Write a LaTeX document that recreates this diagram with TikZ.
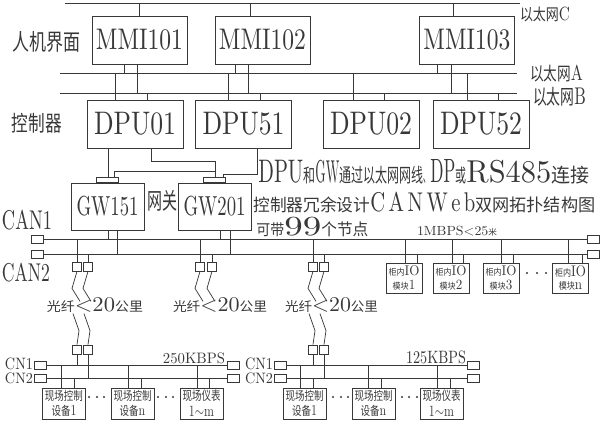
\documentclass[tikz,border=0pt]{standalone}
\usepackage{fontspec}
\usepackage{graphicx}
\newfontfamily\cjk{Noto Sans CJK SC}
\newlength\pxu
\setlength\pxu{0.75pt}
% text boxes are stretched to the size they have in the drawing (in px)
\newcommand{\fit}[3]{\resizebox*{#1\pxu}{#2\pxu}{#3}}
\newcommand{\zhfit}[3]{\resizebox*{#1\pxu}{#2\pxu}{\cjk #3}}
\newcommand{\zh}[2][0.62]{\scalebox{#1}{\cjk #2}}
\tikzset{
  box/.style={draw, inner sep=0pt},
  mmibox/.style={box, minimum width=95*\pxu, minimum height=48*\pxu},
  dpubox/.style={box, minimum width=96*\pxu, minimum height=48*\pxu},
  gwbox/.style={box, minimum width=73*\pxu, minimum height=47*\pxu},
  plug/.style={box, minimum width=22*\pxu, minimum height=5*\pxu},
  endbox/.style={box, minimum width=12*\pxu, minimum height=8*\pxu},
  port/.style={box, minimum width=9*\pxu, minimum height=9*\pxu},
  iobox/.style={box, minimum width=36*\pxu, minimum height=30*\pxu},
  devbox/.style={box, minimum width=43*\pxu, minimum height=31*\pxu},
  lbl/.style={inner sep=0pt},
}
\begin{document}
\begin{tikzpicture}[x=0.75pt, y=-0.75pt, line width=0.55pt, color=black!78]
  \useasboundingbox (0,0) rectangle (600,423);
  % ethernet C, A, B
  \coordinate (ethC) at (65,3);  \coordinate (ethCe) at (520,3);
  \coordinate (ethA) at (60,73); \coordinate (ethAe) at (517,73);
  \coordinate (ethB) at (60,93); \coordinate (ethBe) at (517,93);
  \draw (ethC) -- (ethCe) (ethA) -- (ethAe) (ethB) -- (ethBe);
  \node[lbl] (netC) at (545,14.5) {\fit{50}{15}{\zh[0.85]{以太网}C}};
  \node[lbl] (netA) at (556.5,73.5) {\fit{53}{17}{\zh[0.85]{以太网}A}};
  \node[lbl] (netB) at (559.5,97) {\fit{53}{19}{\zh[0.85]{以太网}B}};
  \node[lbl] (hmi) at (46,41.5) {\zhfit{68}{21}{人机界面}};
  \node[lbl] (ctrl) at (37,123) {\zhfit{50}{20}{控制器}};
  % operator stations and controllers
  \node[mmibox] (mmi101) at (139.5,40) {\fit{87}{21}{MMI101}};
  \node[mmibox] (mmi102) at (262.5,40) {\fit{87}{21}{MMI102}};
  \node[mmibox] (mmi103) at (467,40) {\fit{87}{21}{MMI103}};
  \node[dpubox] (dpu01) at (135,124) {\fit{82}{23}{DPU01}};
  \node[dpubox] (dpu51) at (243.5,124) {\fit{82}{23}{DPU51}};
  \node[dpubox] (dpu02) at (371,124) {\fit{82}{23}{DPU02}};
  \node[dpubox] (dpu52) at (481,124) {\fit{82}{23}{DPU52}};
  \foreach \x/\n in {139/mmi101,250/mmi102,453/mmi103}
    \draw (\x,0 |- ethC) -- (\x,0 |- \n.north);
  \foreach \x/\n in {124/mmi101,235/mmi102,437/mmi103}
    \draw (\x,0 |- \n.south) -- (\x,0 |- ethA);
  \foreach \x/\n in {137/mmi101,248/mmi102,451/mmi103}
    \draw (\x,0 |- \n.south) -- (\x,0 |- ethB);
  \foreach \x/\n in {115/dpu01,228/dpu51,353/dpu02,467/dpu52}
    \draw (\x,0 |- ethA) -- (\x,0 |- \n.north);
  \foreach \x/\n in {147/dpu01,260/dpu51,384/dpu02,498/dpu52}
    \draw (\x,0 |- ethB) -- (\x,0 |- \n.north);
  % gateways
  \node[gwbox] (gw151) at (107.5,206.5) {\fit{62}{20}{GW151}};
  \node[gwbox] (gw201) at (214.5,206.5) {\fit{62}{20}{GW201}};
  \node[plug, anchor=south] (gw151p) at (gw151.north) {};
  \node[plug, anchor=south] (gw201p) at (gw201.north) {};
  \node[lbl] (gwlbl) at (162,201) {\zhfit{30}{21}{网关}};
  \draw (108,0 |- dpu01.south) -- (108,0 |- gw151p.north);
  \draw (151,0 |- dpu01.south) -- (151,161) -| (215,0 |- gw201p.north);
  \draw (114,0 |- gw151p.north) |- (215,171);
  \draw (257,0 |- dpu51.south) |- (223,174) -- (223,0 |- gw201p.north);
  % title text
  \node[lbl, anchor=base west] (title1) at (258,183) {\fit{45}{23}{DPU}\zhfit{12}{17}{和}\fit{24}{23}{GW}\zhfit{84}{18}{通过以太网网线}\zhfit{7}{5}{、}\fit{25}{23}{DP}\zhfit{11}{17}{或}\fit{85}{23}{RS485}\zhfit{38}{18}{连接}};
  \node[lbl, anchor=base west] (title2) at (253,212) {\zhfit{117}{16}{控制器冗余设计}\fit{105}{20}{C\,A\,N\,W\,e\,b}\zhfit{120}{16}{双网拓扑结构图}};
  \node[lbl, anchor=base west] (title3) at (256,236) {\zhfit{28}{14}{可带}\fit{37}{19}{99}\zhfit{47}{15}{个节点}};
  % CAN1 / CAN2
  \node[lbl] (canlbl1) at (27,220) {\fit{50}{20}{CAN1}};
  \node[lbl] (canlbl2) at (26,272.5) {\fit{48}{19}{CAN2}};
  \node[endbox] (can1l) at (37,239) {};
  \node[endbox] (can1r) at (593,239) {};
  \node[endbox] (can2l) at (37,254) {};
  \node[endbox] (can2r) at (593,254) {};
  \draw (can1l) -- (can1r) (can2l) -- (can2r);
  \foreach \x/\n in {108/gw151,220/gw201} \draw (\x,0 |- \n.south) -- (\x,0 |- can1l);
  \foreach \x/\n in {117/gw151,230/gw201} \draw (\x,0 |- \n.south) -- (\x,0 |- can2l);
  \node[lbl] (speed1) at (457,231.5) {\fit{80}{10}{1MBPS<25\zh{米}}};
  % IO modules in the cabinet
  \node[iobox] (io1) at (404,278) {\fit{31}{25}{\shortstack{\zh{柜内}IO\\\zh{模块}1}}};
  \node[iobox] (io2) at (451,278) {\fit{31}{25}{\shortstack{\zh{柜内}IO\\\zh{模块}2}}};
  \node[iobox] (io3) at (501,278) {\fit{31}{25}{\shortstack{\zh{柜内}IO\\\zh{模块}3}}};
  \node[iobox] (io4) at (570.5,278) {\fit{31}{25}{\shortstack{\zh{柜内}IO\\\zh{模块}n}}};
  \foreach \x/\n in {405/io1,452/io2,501/io3,568/io4} \draw (\x,0 |- can1l) -- (\x,0 |- \n.north);
  \foreach \x/\n in {417/io1,463/io2,513/io3,582/io4} \draw (\x,0 |- can2l) -- (\x,0 |- \n.north);
  \foreach \x in {527,537,546} \fill (\x,273) circle (0.9pt);
  % fibre links
  \foreach \n/\x in {f1a/77,f1b/88,f2a/200,f2b/212,f3a/313,f3b/324}
    \node[port] (\n) at (\x,266.5) {};
  \foreach \n in {f1a,f2a,f3a} \draw (\n) -- (\n |- can1l);
  \foreach \n in {f1b,f2b,f3b} \draw (\n) -- (\n |- can2l);
  \foreach \n in {f1a,f1b,f2a,f2b,f3a,f3b} \draw (\n.south) -- ++(-5,17) -- ++(8,13);
  \node[lbl] (fib1) at (95,305.5) {\fit{96}{15}{\zh{光纤}<20\zh{公里}}};
  \node[lbl] (fib2) at (220,305.5) {\fit{94}{15}{\zh{光纤}<20\zh{公里}}};
  \node[lbl] (fib3) at (331.5,305.5) {\fit{93}{15}{\zh{光纤}<20\zh{公里}}};
  \foreach \n/\x in {g1a/77,g1b/88,g3a/313,g3b/324}
    \node[port] (\n) at (\x,349.5) {};
  \foreach \n in {g1a,g1b,g3a,g3b} \draw (\n.north) -- ++(2,-14) -- ++(-6,-17);
  % field buses
  \node[endbox] (lcn1l) at (40.5,365) {};
  \node[endbox] (lcn1r) at (233.5,365) {};
  \node[endbox] (lcn2l) at (40.5,378) {};
  \node[endbox] (lcn2r) at (233.5,378) {};
  \node[endbox] (rcn1l) at (280,365) {};
  \node[endbox] (rcn1r) at (473.5,365) {};
  \node[endbox] (rcn2l) at (280,378) {};
  \node[endbox] (rcn2r) at (473.5,378) {};
  \draw (lcn1l) -- (lcn1r) (lcn2l) -- (lcn2r) (rcn1l) -- (rcn1r) (rcn2l) -- (rcn2r);
  \foreach \n in {g1a,g3a} \draw (\n) -- (\n |- lcn1l);
  \foreach \n in {g1b,g3b} \draw (\n) -- (\n |- lcn2l);
  \node[lbl] (cnl1) at (19,364) {\fit{28}{12}{CN1}};
  \node[lbl] (cnl2) at (19,378) {\fit{28}{11}{CN2}};
  \node[lbl] (cnr1) at (259,364) {\fit{28}{12}{CN1}};
  \node[lbl] (cnr2) at (259,378) {\fit{28}{11}{CN2}};
  \node[lbl] (speed2) at (194,358.5) {\fit{62}{11}{250KBPS}};
  \node[lbl] (speed3) at (436,357.5) {\fit{60}{13}{125KBPS}};
  % field devices
  \foreach \n/\x in {dl1/64,dr1/304.5}
    \node[devbox] (\n) at (\x,403.5) {\fit{38}{27}{\shortstack{\zh[0.8]{现场控制}\\\zh[0.8]{设备}1}}};
  \foreach \n/\x in {dl2/132.5,dr2/373.5}
    \node[devbox] (\n) at (\x,403.5) {\fit{38}{27}{\shortstack{\zh[0.8]{现场控制}\\\zh[0.8]{设备}n}}};
  \foreach \n/\x in {dl3/201.5,dr3/441.5}
    \node[devbox] (\n) at (\x,403.5) {\fit{38}{27}{\shortstack{\zh[0.8]{现场仪表}\\1$\sim$m}}};
  \foreach \x/\n in {61/dl1,128/dl2,197/dl3,300/dr1,368/dr2,437/dr3}
    \draw (\x,0 |- lcn1l) -- (\x,0 |- \n.north);
  \foreach \x/\n in {74/dl1,141/dl2,209/dl3,313/dr1,381/dr2,450/dr3}
    \draw (\x,0 |- lcn2l) -- (\x,0 |- \n.north);
  \foreach \x in {89,97,104,158,166,173,333,341,348,402,409,417}
    \fill (\x,397) circle (0.9pt);
\end{tikzpicture}
\end{document}
